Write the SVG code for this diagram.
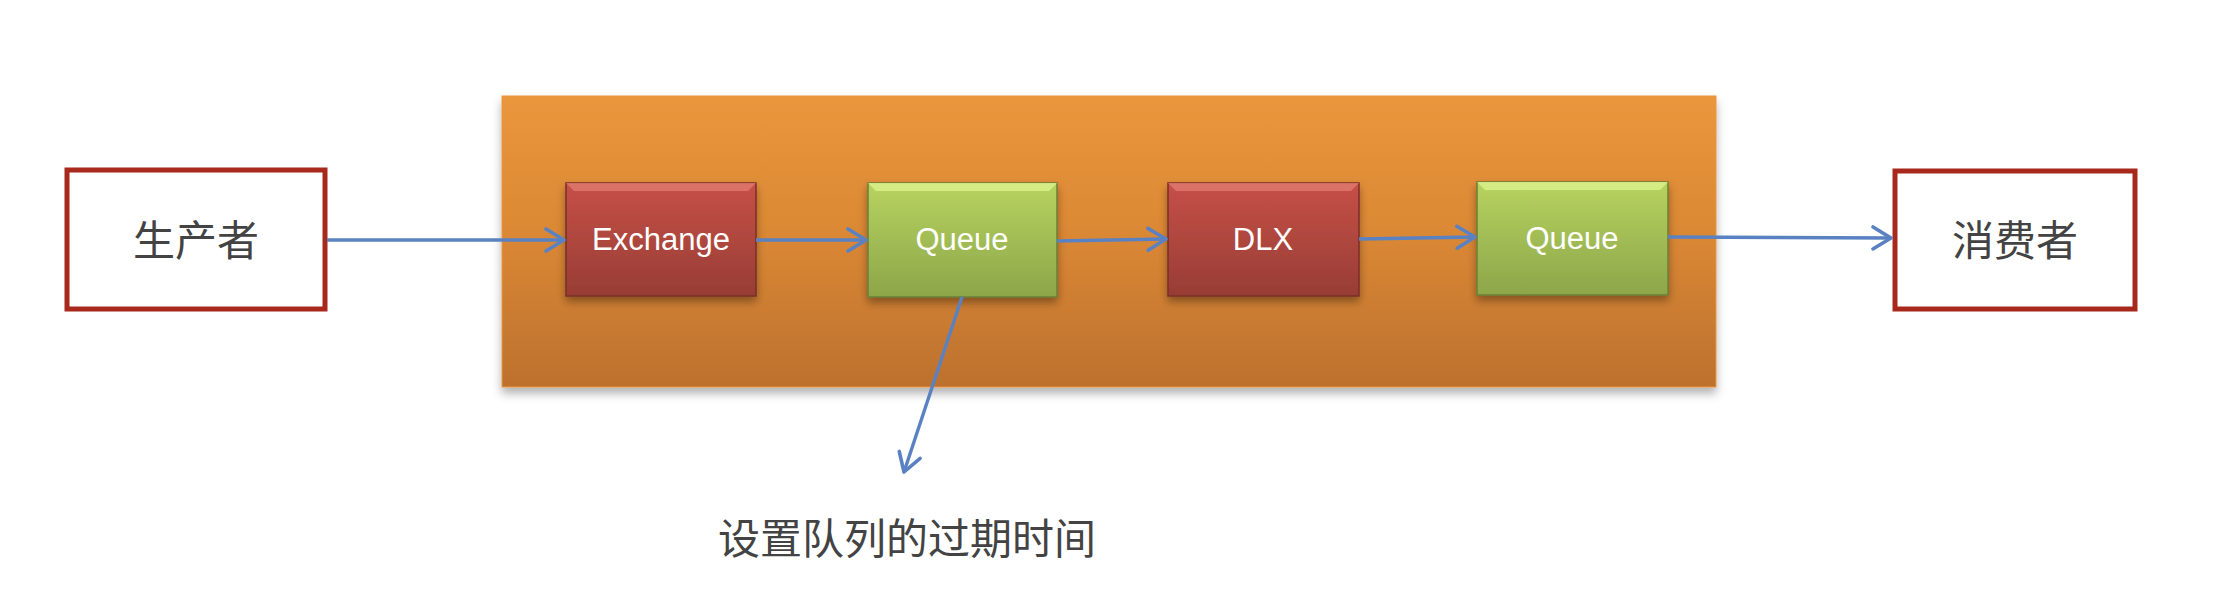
<svg xmlns="http://www.w3.org/2000/svg" width="2216" height="612" viewBox="0 0 2216 612">
<defs>
<linearGradient id="gOrange" x1="0" y1="0" x2="0" y2="1">
<stop offset="0" stop-color="#E9963C"/>
<stop offset="0.45" stop-color="#DC8935"/>
<stop offset="1" stop-color="#BC712E"/>
</linearGradient>
<linearGradient id="gRed" x1="0" y1="0" x2="0" y2="1">
<stop offset="0" stop-color="#C65047"/>
<stop offset="1" stop-color="#973D35"/>
</linearGradient>
<linearGradient id="gGreen" x1="0" y1="0" x2="0" y2="1">
<stop offset="0" stop-color="#B7D35F"/>
<stop offset="1" stop-color="#8CA64A"/>
</linearGradient>
<filter id="shadow" x="-10%" y="-10%" width="120%" height="130%">
<feDropShadow dx="0" dy="5" stdDeviation="4" flood-color="#000" flood-opacity="0.35"/>
</filter>
<filter id="shadowBig" x="-5%" y="-10%" width="110%" height="130%">
<feDropShadow dx="0" dy="6" stdDeviation="5" flood-color="#000" flood-opacity="0.3"/>
</filter>
<marker id="arr" viewBox="0 0 26 26" refX="22" refY="13" markerWidth="26" markerHeight="26" markerUnits="userSpaceOnUse" orient="auto">
<path d="M4,2 L22,13 L4,24" fill="none" stroke="#5A82C2" stroke-width="3.6" stroke-linecap="round" stroke-linejoin="round"/>
</marker>
<style>
.ext{fill:#FFFFFF;stroke:#A8281C;stroke-width:5}
.cjk{font-family:"Noto Sans CJK SC","Noto Sans",sans-serif;font-size:42px;fill:#434343;text-anchor:middle}
.lbl{font-family:"Liberation Sans","Open Sans",sans-serif;font-size:31px;fill:#FFFFFF;text-anchor:middle}
.conn{fill:none;stroke:#5A82C2;stroke-width:3.4;marker-end:url(#arr)}
.hiR{fill:#E07A70;opacity:0.8}
.hiG{fill:#D8EE8A;opacity:0.9}
</style>
</defs>
<rect width="2216" height="612" fill="#FFFFFF"/>
<g id="container">
<rect x="502" y="96" width="1214" height="291" fill="url(#gOrange)" stroke="#E9963C" stroke-width="1" filter="url(#shadowBig)"/>
</g>
<g id="producer">
<rect class="ext" x="67" y="170" width="258" height="139"/>
<text class="cjk" x="196" y="256">生产者</text>
</g>
<g id="consumer">
<rect class="ext" x="1895" y="171" width="240" height="138"/>
<text class="cjk" x="2015" y="256">消费者</text>
</g>
<g id="exchange">
<rect x="566" y="183" width="190" height="113" fill="url(#gRed)" stroke="#7A2E28" stroke-width="1.5" filter="url(#shadow)"/>
<path class="hiR" d="M566,183 L756,183 L748,191 L574,191 Z"/>
<text class="lbl" x="661" y="250">Exchange</text>
</g>
<g id="queue1">
<rect x="868" y="183" width="189" height="114" fill="url(#gGreen)" stroke="#6A7F37" stroke-width="1.5" filter="url(#shadow)"/>
<path class="hiG" d="M868,183 L1057,183 L1049,191 L876,191 Z"/>
<text class="lbl" x="962" y="250">Queue</text>
</g>
<g id="dlx">
<rect x="1168" y="183" width="191" height="113" fill="url(#gRed)" stroke="#7A2E28" stroke-width="1.5" filter="url(#shadow)"/>
<path class="hiR" d="M1168,183 L1359,183 L1351,191 L1176,191 Z"/>
<text class="lbl" x="1263" y="250">DLX</text>
</g>
<g id="queue2">
<rect x="1477" y="182" width="191" height="113" fill="url(#gGreen)" stroke="#6A7F37" stroke-width="1.5" filter="url(#shadow)"/>
<path class="hiG" d="M1477,182 L1668,182 L1660,190 L1485,190 Z"/>
<text class="lbl" x="1572" y="249">Queue</text>
</g>
<g id="note">
<text class="cjk" x="907" y="554">设置队列的过期时间</text>
</g>
<g id="connectors">
<line class="conn" x1="327" y1="240" x2="564" y2="240"/>
<line class="conn" x1="756" y1="240" x2="866" y2="240"/>
<line class="conn" x1="1057" y1="241" x2="1166" y2="239"/>
<line class="conn" x1="1359" y1="239" x2="1475" y2="237"/>
<line class="conn" x1="1668" y1="237" x2="1891" y2="238"/>
<line class="conn" x1="962" y1="297" x2="904" y2="472"/>
</g>
</svg>
